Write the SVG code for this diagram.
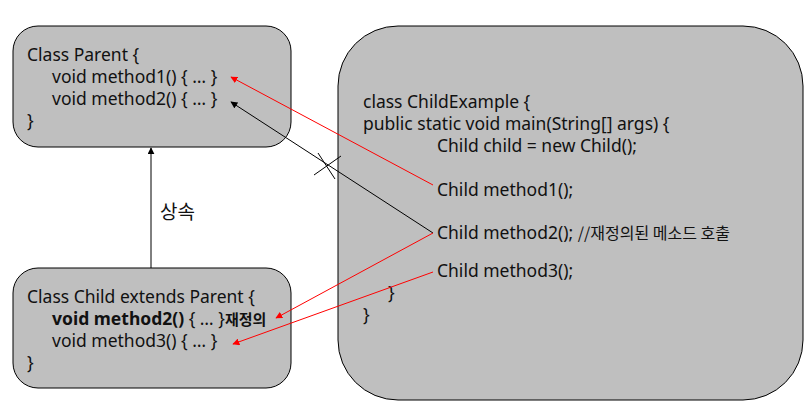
<svg xmlns="http://www.w3.org/2000/svg" width="811" height="416" viewBox="0 0 811 416">
<defs>
<style>
.box{fill:#bfbfbf;stroke:#000;stroke-width:1}
.t{font-family:"Noto Sans","Noto Sans CJK KR",sans-serif;font-size:17.5px;fill:#111}
.k{font-family:"Noto Sans CJK KR",sans-serif;font-size:16px;fill:#111}
.red{stroke:#ff0000;stroke-width:1;fill:none}
.blk{stroke:#000;stroke-width:1;fill:none}
</style>
<marker id="ar" viewBox="0 0 10 10" refX="9" refY="5" markerWidth="7" markerHeight="7" orient="auto" markerUnits="userSpaceOnUse"><path d="M0,0 L10,5 L0,10 z" fill="#ff0000"/></marker>
<marker id="ab" viewBox="0 0 10 10" refX="9" refY="5" markerWidth="7" markerHeight="7" orient="auto" markerUnits="userSpaceOnUse"><path d="M0,0 L10,5 L0,10 z" fill="#000"/></marker>
</defs>
<rect width="811" height="416" fill="#fff"/>
<g id="parent">
<rect class="box" x="13" y="26" width="278" height="121" rx="25" ry="25"/>
<text class="t" x="27" y="61">Class Parent {</text>
<text class="t" x="52" y="83">void method1() { … }</text>
<text class="t" x="52" y="105">void method2() { … }</text>
<text class="t" x="27" y="127">}</text>
</g>
<g id="child">
<rect class="box" x="13" y="268" width="278" height="120" rx="25" ry="25"/>
<text class="t" x="27" y="303">Class Child extends Parent {</text>
<text class="t" x="52" y="325"><tspan font-weight="bold">void method2()</tspan> { … }<tspan class="k" style="font-weight:bold;font-size:15px">재정의</tspan></text>
<text class="t" x="52" y="347">void method3() { … }</text>
<text class="t" x="27" y="369">}</text>
</g>
<g id="main">
<rect class="box" x="338" y="26" width="465" height="374" rx="60" ry="60"/>
<text class="t" x="363" y="108">class ChildExample {</text>
<text class="t" x="363" y="130">public static void main(String[] args) {</text>
<text class="t" x="437" y="152">Child child = new Child();</text>
<text class="t" x="437" y="196">Child method1();</text>
<text class="t" x="437" y="239">Child method2(); <tspan class="k">//재정의된 메소드 호출</tspan></text>
<text class="t" x="437" y="277">Child method3();</text>
<text class="t" x="388" y="299">}</text>
<text class="t" x="363" y="321">}</text>
</g>
<g id="connectors">
<line class="blk" x1="151" y1="268" x2="151" y2="148" marker-end="url(#ab)"/>
<text class="k" x="160" y="219" style="font-size:19px">상속</text>
<line class="red" x1="433" y1="185" x2="231" y2="77" marker-end="url(#ar)"/>
<line class="blk" x1="433" y1="233" x2="231" y2="102" marker-end="url(#ab)"/>
<line class="blk" x1="318" y1="153" x2="335" y2="179"/>
<line class="blk" x1="341" y1="156" x2="314" y2="175"/>
<line class="red" x1="433" y1="233" x2="276" y2="318" marker-end="url(#ar)"/>
<line class="red" x1="433" y1="272" x2="233" y2="344" marker-end="url(#ar)"/>
</g>
</svg>
